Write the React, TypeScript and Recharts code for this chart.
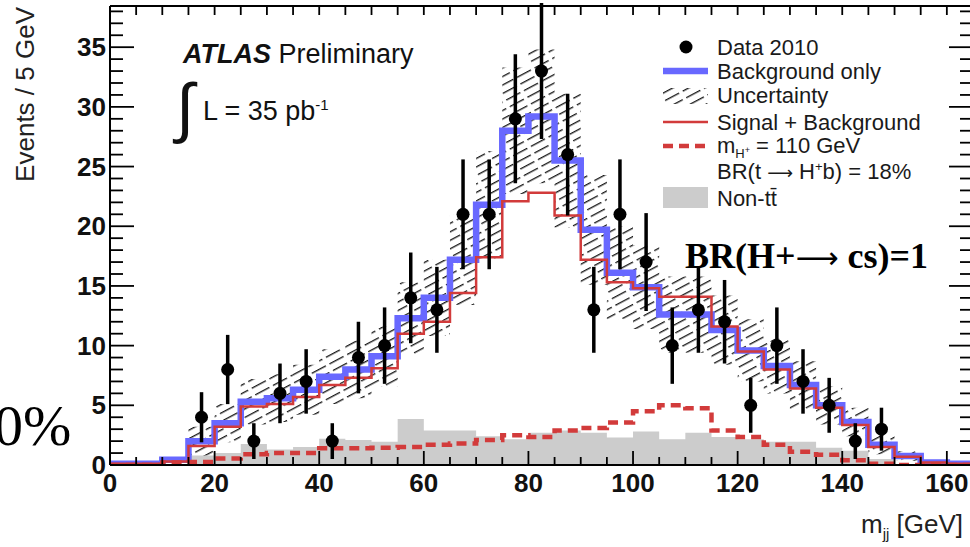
import { ComposedChart, XAxis, YAxis, Line, Area, Scatter, ErrorBar } from "recharts"

// 5 GeV bins, lower edges
const binLow = [0, 5, 10, 15, 20, 25, 30, 35, 40, 45, 50, 55, 60, 65, 70, 75, 80, 85, 90, 95, 100, 105, 110, 115, 120, 125, 130, 135, 140, 145, 150, 155, 160]
const bkgOnly = [0.1, 0.1, 0.45, 2.0, 3.5, 5.3, 5.6, 6.3, 7.4, 8.0, 9.1, 12.3, 14.0, 17.2, 21.8, 28.0, 29.2, 25.5, 19.7, 16.1, 14.9, 12.6, 12.6, 11.3, 9.6, 8.3, 6.7, 5.0, 3.6, 1.7, 0.75, 0.2, 0.1]
const bkgUnc = [0, 0, 0.15, 1.2, 1.6, 1.9, 2.0, 2.1, 2.3, 2.4, 2.5, 3.0, 3.2, 3.8, 4.5, 5.3, 5.6, 5.6, 4.6, 3.9, 3.5, 3.2, 3.2, 2.9, 2.6, 2.3, 2.0, 1.6, 1.2, 0.8, 0.4, 0.15, 0]
const sigPlusBkg = [0.1, 0.1, 0.3, 1.6, 3.2, 4.9, 5.1, 5.7, 6.7, 7.3, 8.1, 11.0, 12.0, 14.4, 17.4, 22.1, 22.8, 20.9, 17.2, 15.3, 14.8, 14.1, 14.1, 11.6, 9.5, 8.0, 6.4, 4.8, 3.35, 1.5, 0.7, 0.2, 0.1]
const signal = [0, 0, 0.2, 0.25, 0.55, 0.9, 1.0, 1.0, 1.4, 1.4, 1.45, 1.5, 1.7, 1.8, 2.1, 2.5, 2.35, 2.9, 3.1, 3.55, 4.5, 5.0, 4.75, 2.9, 2.35, 1.7, 1.1, 0.85, 0.4, 0.1, 0, 0, 0]
const nonTT = [0, 0, 0, 0.8, 1.0, 1.75, 1.3, 1.5, 2.2, 2.1, 1.95, 3.85, 2.9, 2.9, 2.4, 2.15, 2.7, 2.9, 2.7, 2.3, 2.8, 2.15, 2.7, 2.35, 2.15, 1.95, 1.95, 1.45, 1.2, 0.5, 0, 0, 0]

// Data 2010, at bin centres
const dataMass = [17.5, 22.5, 27.5, 32.5, 37.5, 42.5, 47.5, 52.5, 57.5, 62.5, 67.5, 72.5, 77.5, 82.5, 87.5, 92.5, 97.5, 102.5, 107.5, 112.5, 117.5, 122.5, 127.5, 132.5, 137.5, 142.5, 147.5]
const dataEvents = [4, 8, 2, 6, 7, 2, 9, 10, 14, 13, 21, 21, 29, 33, 26, 13, 21, 17, 10, 13, 12, 5, 10, 7, 5, 2, 3]
const dataErr = [2.1, 2.9, 1.5, 2.5, 2.7, 1.5, 3.0, 3.2, 3.8, 3.6, 4.6, 4.6, 5.4, 5.7, 5.1, 3.6, 4.6, 4.1, 3.2, 3.6, 3.5, 2.3, 3.2, 2.7, 2.3, 1.5, 1.8]

const xLabels = [0, 20, 40, 60, 80, 100, 120, 140, 160]
const yLabels = [0, 5, 10, 15, 20, 25, 30, 35]

const xTicks = Array.from({ length: 34 }, (_, i) => i * 5)
const yTicks = Array.from({ length: 39 }, (_, i) => i)

const BLUE = "#6868ff"
const RED = "#d23b3b"
const GREY = "#cccccc"
const FONT = "'Liberation Sans', Arial, Helvetica, sans-serif"
const SERIF = "'Liberation Serif', 'Times New Roman', serif"
const ARROW = "'DejaVu Sans', sans-serif"

// one row per bin edge, last edge repeats the last bin so the step closes
const hist = [...binLow, 165].map((x, k) => {
  const i = Math.min(k, binLow.length - 1)
  return {
    x,
    bkg: bkgOnly[i],
    band: [bkgOnly[i] - bkgUnc[i], bkgOnly[i] + bkgUnc[i]],
    sb: sigPlusBkg[i],
    sig: signal[i],
    nontt: nonTT[i],
  }
})

const points = dataMass.map((x, i) => ({ x, y: dataEvents[i], err: dataErr[i] }))

const LeftTick = ({ x, y, payload }: any) => {
  const v = payload.value
  const major = v % 5 === 0
  return (
    <g>
      <line x1={x} x2={x + (major ? 24 : 13)} y1={y} y2={y} stroke="#000" strokeWidth={1.8} />
      {major && yLabels.includes(v) && (
        <text x={x - 4} y={y} dy={9} textAnchor="end" fontSize={26} fontFamily={FONT} fontWeight="bold" fill="#111">
          {v}
        </text>
      )}
    </g>
  )
}

const RightTick = ({ x, y, payload }: any) => {
  const major = payload.value % 5 === 0
  return <line x1={x} x2={x - (major ? 24 : 13)} y1={y} y2={y} stroke="#000" strokeWidth={1.8} />
}

const BottomTick = ({ x, y, payload }: any) => {
  const v = payload.value
  const major = v % 20 === 0
  return (
    <g>
      <line x1={x} x2={x} y1={y} y2={y - (major ? 14 : 8)} stroke="#000" strokeWidth={1.8} />
      {xLabels.includes(v) && (
        <text x={x} y={y + 27} textAnchor="middle" fontSize={26} fontFamily={FONT} fontWeight="bold" fill="#111">
          {v}
        </text>
      )}
    </g>
  )
}

const TopTick = ({ x, y }: any) => (
  <line x1={x} x2={x} y1={y} y2={y + 9} stroke="#000" strokeWidth={1.8} />
)

const Dot = ({ cx, cy }: any) => <circle cx={cx} cy={cy} r={6.5} fill="#000" />

function Hatch({ id }: { id: string }) {
  return (
    <pattern id={id} patternUnits="userSpaceOnUse" width={20} height={7.5} patternTransform="rotate(-28)">
      <line x1={0} x2={20} y1={3.5} y2={3.5} stroke="#111" strokeWidth={1.3} strokeDasharray="16 4" />
    </pattern>
  )
}

function Annotations() {
  const lx = 717
  return (
    <svg width={970} height={547} style={{ position: "absolute", left: 0, top: 0, pointerEvents: "none" }}>
      <defs>
        <Hatch id="hatchLeg" />
      </defs>
      <text transform="translate(34,7) rotate(-90)" textAnchor="end" fontSize={26} fontFamily={FONT} fill="#222">
        Events / 5 GeV
      </text>
      <text x={963} y={533} textAnchor="end" fontSize={26} fontFamily={FONT} fill="#222">
        m<tspan fontSize={15} dy={6}>jj</tspan>
        <tspan dy={-6}> [GeV]</tspan>
      </text>

      <text x={183} y={63} fontSize={27} fontFamily={FONT} fill="#111">
        <tspan fontWeight="bold" fontStyle="italic">ATLAS</tspan>
        <tspan> Preliminary</tspan>
      </text>
      <text x={176} y={130} fontSize={66} fontFamily="'DejaVu Sans', sans-serif" fontWeight={300} fill="#111">∫</text>
      <text x={203} y={120} fontSize={27} fontFamily={FONT} fill="#111">
        L = 35 pb<tspan fontSize={15} dy={-10}>-1</tspan>
      </text>

      {/* legend */}
      <circle cx={686} cy={47} r={6.5} fill="#000" />
      <line x1={663} x2={708} y1={71} y2={71} stroke={BLUE} strokeWidth={6.5} />
      <rect x={663} y={88} width={45} height={16} fill="url(#hatchLeg)" />
      <line x1={663} x2={708} y1={122} y2={122} stroke={RED} strokeWidth={2.5} />
      <line x1={663} x2={708} y1={146} y2={146} stroke={RED} strokeWidth={4.5} strokeDasharray="10 6" />
      <rect x={663} y={187} width={45} height={21} fill={GREY} />
      <g fontSize={22} fontFamily={FONT} fill="#1a1a1a">
        <text x={lx} y={55}>Data 2010</text>
        <text x={lx} y={79}>Background only</text>
        <text x={lx} y={103}>Uncertainty</text>
        <text x={lx} y={130}>Signal + Background</text>
        <text x={lx} y={153}>
          m<tspan fontSize={13} dy={5}>H</tspan>
          <tspan fontSize={9} dy={-5}>+</tspan>
          <tspan dy={0}> = 110 GeV</tspan>
        </text>
        <text x={lx} y={179}>
          BR(t <tspan fontFamily={ARROW} fontSize={18}>⟶</tspan> H<tspan fontSize={13} dy={-8}>+</tspan>
          <tspan dy={8}>b) = 18%</tspan>
        </text>
        <text x={lx} y={206}>Non-tt&#772;</text>
      </g>

      <text x={685} y={268} fontSize={36} fontWeight="bold" fontFamily={SERIF} fill="#000">
        BR(H+<tspan fontFamily={ARROW} fontWeight="normal" fontSize={30}>⟶</tspan> cs)=1
      </text>
      <text x={-6} y={445} fontSize={58} fontFamily={SERIF} fill="#000">
        0%
      </text>
    </svg>
  )
}

export default function App() {
  return (
    <div style={{ position: "absolute", left: 0, top: 0, width: 970, height: 547, overflow: "hidden", background: "#fff" }}>
      <ComposedChart width={980} height={547} margin={{ top: 5, right: 6, bottom: 81, left: 109 }}>
        <defs>
          <Hatch id="hatch" />
        </defs>
        <XAxis
          xAxisId="b"
          type="number"
          dataKey="x"
          domain={[0, 165]}
          ticks={xTicks}
          interval={0}
          height={1}
          tickSize={0}
          tickMargin={0}
          tickLine={false}
          tick={<BottomTick />}
          axisLine={{ stroke: "#000", strokeWidth: 2 }}
          allowDataOverflow
        />
        <XAxis
          xAxisId="t"
          orientation="top"
          type="number"
          dataKey="x"
          domain={[0, 165]}
          ticks={xTicks}
          interval={0}
          height={1}
          tickSize={0}
          tickMargin={0}
          tickLine={false}
          tick={<TopTick />}
          axisLine={{ stroke: "#000", strokeWidth: 2 }}
          allowDataOverflow
        />
        <YAxis
          yAxisId="l"
          type="number"
          domain={[0, 38.45]}
          ticks={yTicks}
          interval={0}
          width={1}
          tickSize={0}
          tickMargin={0}
          tickLine={false}
          tick={<LeftTick />}
          axisLine={{ stroke: "#000", strokeWidth: 2 }}
          allowDataOverflow
        />
        <YAxis
          yAxisId="r"
          orientation="right"
          type="number"
          domain={[0, 38.45]}
          ticks={yTicks}
          interval={0}
          width={1}
          tickSize={0}
          tickMargin={0}
          tickLine={false}
          tick={<RightTick />}
          axisLine={{ stroke: "#000", strokeWidth: 2 }}
          allowDataOverflow
        />

        <Area
          data={hist}
          xAxisId="b"
          yAxisId="l"
          type="stepAfter"
          dataKey="nontt"
          fill={GREY}
          fillOpacity={1}
          stroke="none"
          isAnimationActive={false}
        />
        <Area
          data={hist}
          xAxisId="b"
          yAxisId="l"
          type="stepAfter"
          dataKey="band"
          fill="url(#hatch)"
          fillOpacity={1}
          stroke="none"
          isAnimationActive={false}
        />
        <Line
          data={hist}
          xAxisId="b"
          yAxisId="l"
          type="stepAfter"
          dataKey="bkg"
          stroke={BLUE}
          strokeWidth={6.5}
          dot={false}
          activeDot={false}
          isAnimationActive={false}
        />
        <Line
          data={hist}
          xAxisId="b"
          yAxisId="l"
          type="stepAfter"
          dataKey="sb"
          stroke={RED}
          strokeWidth={2.5}
          dot={false}
          activeDot={false}
          isAnimationActive={false}
        />
        <Line
          data={hist}
          xAxisId="b"
          yAxisId="l"
          type="stepAfter"
          dataKey="sig"
          stroke={RED}
          strokeWidth={4.5}
          strokeDasharray="10 6"
          dot={false}
          activeDot={false}
          isAnimationActive={false}
        />
        <Scatter data={points} xAxisId="b" yAxisId="l" dataKey="y" shape={<Dot />} isAnimationActive={false}>
          <ErrorBar dataKey="err" direction="y" width={0} stroke="#000" strokeWidth={3.5} />
        </Scatter>
      </ComposedChart>
      <Annotations />
    </div>
  )
}
